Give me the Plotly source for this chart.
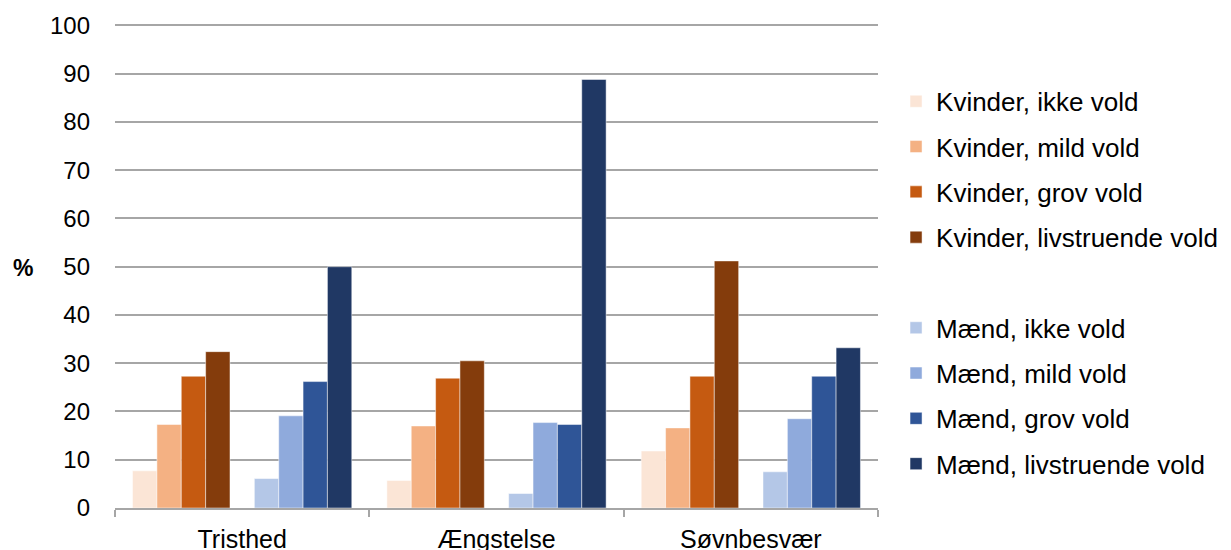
import plotly.graph_objects as go

categories = ["Tristhed", "Ængstelse", "Søvnbesvær"]

series_names = [
    "Kvinder, ikke vold",
    "Kvinder, mild vold",
    "Kvinder, grov vold",
    "Kvinder, livstruende vold",
    "Mænd, ikke vold",
    "Mænd, mild vold",
    "Mænd, grov vold",
    "Mænd, livstruende vold",
]

kvinder_ikke = [7.7, 5.7, 11.8]
kvinder_mild = [17.3, 17.0, 16.6]
kvinder_grov = [27.3, 26.9, 27.3]
kvinder_livs = [32.4, 30.5, 51.2]
maend_ikke = [6.1, 3.0, 7.5]
maend_mild = [19.1, 17.7, 18.5]
maend_grov = [26.2, 17.3, 27.3]
maend_livs = [50.0, 88.8, 33.2]

series_values = [kvinder_ikke, kvinder_mild, kvinder_grov, kvinder_livs,
                 maend_ikke, maend_mild, maend_grov, maend_livs]

colors = ["#FBE5D6", "#F4B183", "#C55A11", "#843C0C",
          "#B4C7E7", "#8FAADC", "#2F5597", "#203864"]

y_ticks = list(range(0, 101, 10))

fig = go.Figure()

def add_series(name, vals, color, idx):
    fig.add_trace(go.Bar(
        x=categories, y=vals, name=name,
        marker=dict(color=color, line=dict(color="rgba(255,255,255,0.6)", width=0.8)),
        legendgroup="g%d" % idx,
        hoverinfo="x+y+name",
    ))

for i in range(4):
    add_series(series_names[i], series_values[i], colors[i], i)

# empty spacer series between the women and the men
fig.add_trace(go.Bar(
    x=categories, y=[None, None, None], name=" ",
    marker=dict(color="rgba(0,0,0,0)", line=dict(width=0, color="rgba(0,0,0,0)")),
    legendgroup="g_spacer", showlegend=True, hoverinfo="skip",
))

for i in range(4, 8):
    add_series(series_names[i], series_values[i], colors[i], i)

fig.update_layout(
    width=1231, height=550,
    paper_bgcolor="white", plot_bgcolor="white",
    margin=dict(l=107, r=361, t=16, b=50),
    barmode="group", bargap=0.138, bargroupgap=0,
    font=dict(family="Liberation Sans, Arial, sans-serif", color="black", size=24),
    showlegend=True,
    legend=dict(
        xref="container", yref="container",
        x=0.7214, y=0.873, xanchor="left", yanchor="top",
        traceorder="grouped", tracegroupgap=8.5,
        font=dict(size=26, color="black"),
        bgcolor="rgba(0,0,0,0)",
        maxheight=540,
    ),
    xaxis=dict(
        type="category", automargin=False,
        showline=True, linecolor="#a6a6a6", linewidth=1.5,
        ticks="outside", tickson="boundaries", ticklen=7, tickcolor="#a6a6a6", tickwidth=1.5,
        showgrid=False, ticklabelstandoff=8,
        tickfont=dict(size=25),
    ),
    yaxis=dict(
        range=[0, 100.3], tickvals=y_ticks, ticktext=[str(v) for v in y_ticks],
        automargin=False,
        showgrid=True, gridcolor="#a6a6a6", gridwidth=1.5,
        showline=False, zeroline=False,
        ticks="", ticklabelstandoff=24,
        tickfont=dict(size=24),
    ),
    annotations=[dict(
        text="<b>%</b>", xref="paper", yref="paper",
        x=-0.1206, y=0.496, xanchor="center", yanchor="middle",
        showarrow=False, font=dict(size=23, color="black"),
    )],
)

fig.write_html("out.html")
